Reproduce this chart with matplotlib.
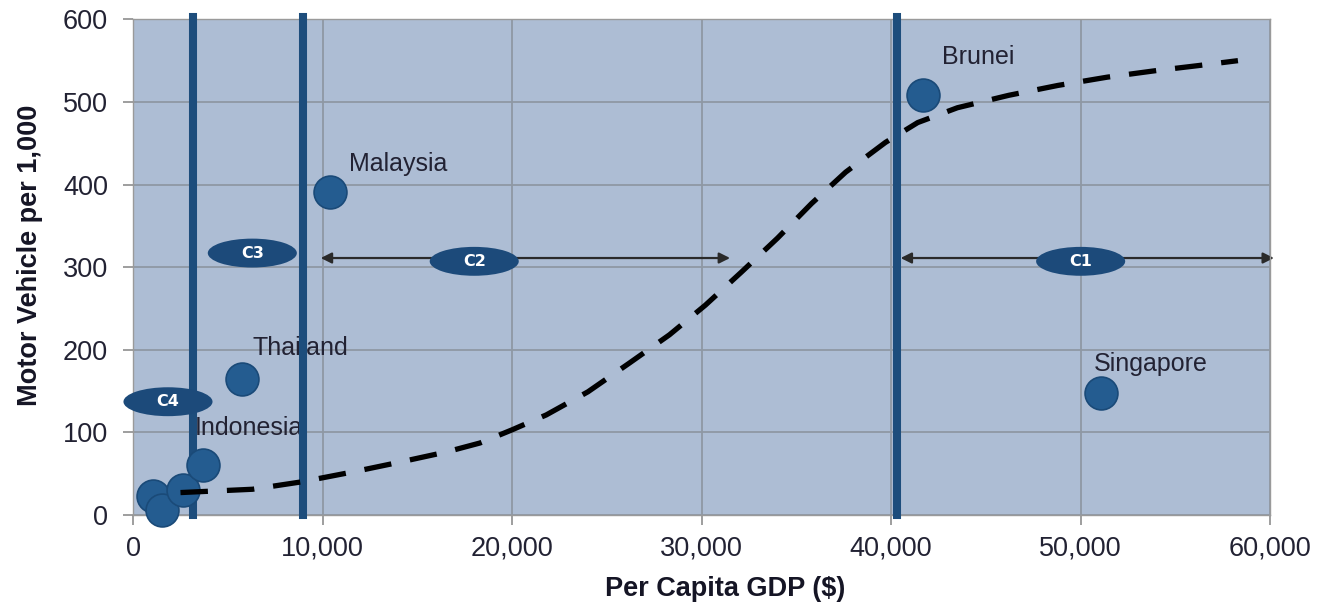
import matplotlib
matplotlib.use("Agg")
import matplotlib.pyplot as plt
from matplotlib.patches import Ellipse
from matplotlib.ticker import FuncFormatter

plt.rcParams['font.family'] = ['Liberation Sans', 'DejaVu Sans']

# countries (GDP per capita $, motor vehicles per 1,000)
countries = ["Brunei", "Malaysia", "Thailand", "Indonesia", "Singapore"]
country_gdp = [41700, 10370, 5770, 3700, 51070]
country_mv = [508, 391, 165, 60, 147]
label_x = [42700, 11400, 6300, 3260, 50700]
label_y = [554, 425, 202, 105, 183]

# unlabelled low-income cluster
cluster_gdp = [1070, 1500, 2650]
cluster_mv = [23, 6, 30]

# fitted S-curve (dashed)
curve_gdp = [2500, 6300, 8900, 11600, 13900, 16500, 18300, 20000, 21800, 24000,
             26200, 28300, 30200, 32100, 34000, 35800, 37600, 39700, 41400,
             43500, 46200, 48800, 51400, 54000, 56200, 58300]
curve_mv = [27, 31, 40, 52, 63, 76, 87, 103, 121, 149, 184, 218, 254, 294, 335,
            377, 415, 451, 475, 493, 508, 520, 530, 538, 544, 550]

# cluster boundaries
boundaries = [3160, 8950, 40300]

# range arrows (start, end, y)
arrow_ranges = [(9900, 31500, 311), (40500, 60200, 311)]

# cluster tags
tags = ["C1", "C2", "C3", "C4"]
tag_x = [50000, 18000, 6290, 1840]
tag_y = [307, 307, 317, 137]

navy = '#1d4d7c'
text_col = '#222233'

fig = plt.figure(figsize=(13.18, 6.05), dpi=100)
ax = fig.add_axes([0.101, 0.149, 0.8627, 0.819])
ax.set_facecolor('#adbdd4')

ax.set_xlim(0, 60000)
ax.set_ylim(0, 600)
ax.set_xticks(range(0, 60001, 10000))
ax.set_yticks(range(0, 601, 100))
ax.xaxis.set_major_formatter(FuncFormatter(lambda v, p: '{:,.0f}'.format(v)))
ax.grid(True, color='#8e98a4', linewidth=1.3, zorder=0.5)
ax.set_axisbelow(True)
for sp in ax.spines.values():
    sp.set_color('#9a9a9a')
    sp.set_linewidth(1.0)
ax.tick_params(axis='both', colors='#8e8e8e', length=7, width=1.2,
               labelsize=19.5, labelcolor=text_col)
ax.tick_params(axis='y', pad=11)
ax.tick_params(axis='x', pad=8)

# arrows
for x0, x1, y in arrow_ranges:
    ax.annotate('', xy=(x1, y), xytext=(x0, y), annotation_clip=False,
                arrowprops=dict(arrowstyle='<|-|>', color='#2a2a2a', lw=1.6,
                                mutation_scale=16, shrinkA=0, shrinkB=0),
                zorder=2)

# country labels
for name, lx, ly in zip(countries, label_x, label_y):
    ax.text(lx, ly, name, fontsize=18, color=text_col, ha='left', va='center',
            zorder=3)

# boundary lines
for b in boundaries:
    ax.axvline(b, ymin=0, ymax=1.005, color=navy, linewidth=5.8, zorder=4,
               clip_on=False)

# points
ax.scatter(cluster_gdp + country_gdp, cluster_mv + country_mv, s=560,
           facecolor='#245c90', edgecolor='#1a4a78', linewidth=1.2, zorder=5,
           clip_on=False)

# S-curve
ax.plot(curve_gdp, curve_mv, color='black', linewidth=3.8, dashes=(5.2, 3.6),
        solid_capstyle='butt', zorder=6)

# cluster tags
for t, tx, ty in zip(tags, tag_x, tag_y):
    ax.add_patch(Ellipse((tx, ty), width=4700, height=35, facecolor='#1c4a7a',
                         edgecolor='none', zorder=7, clip_on=False))
    ax.text(tx, ty, t, fontsize=11.5, fontweight='bold', color='white',
            ha='center', va='center', family='DejaVu Sans', zorder=8)

ax.set_xlabel('Per Capita GDP ($)', fontsize=19.5, fontweight='bold',
              color='#151525')
ax.set_ylabel('Motor Vehicle per 1,000', fontsize=19.5, fontweight='bold',
              color='#151525')
ax.xaxis.set_label_coords(0.521, -0.124)
ax.yaxis.set_label_coords(-0.079, 0.524)

fig.savefig('out.png', dpi=100, facecolor='white')
